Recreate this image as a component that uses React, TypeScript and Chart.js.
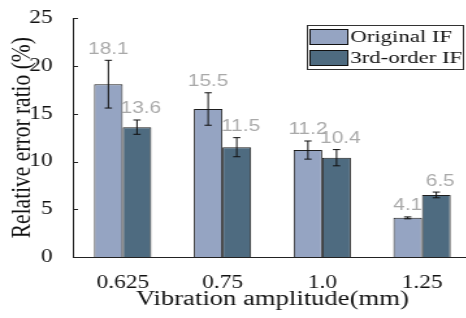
import React, { useEffect, useRef } from "react";
import { Chart, registerables } from "chart.js";

Chart.register(...registerables);

const categories = ["0.625", "0.75", "1.0", "1.25"];
const seriesNames = ["Original IF", "3rd-order IF"];
const originalValues = [18.1, 15.5, 11.2, 4.1];
const thirdOrderValues = [13.6, 11.5, 10.4, 6.5];
const originalErrors = [2.5, 1.7, 0.95, 0.1];
const thirdOrderErrors = [0.75, 1.0, 0.85, 0.3];
const yTicks = [0, 5, 10, 15, 20, 25];
const seriesColors = ["#95a4c2", "#4e6b80"];

const SERIF = '"Liberation Serif", "Times New Roman", serif';
const SANS = '"Liberation Sans", Arial, sans-serif';

const overlayPlugin = {
  id: "overlay",
  afterDatasetsDraw(chart: any) {
    const ctx = chart.ctx;
    const y = chart.scales.y;
    const errs = [originalErrors, thirdOrderErrors];
    chart.data.datasets.forEach((ds: any, di: number) => {
      const meta = chart.getDatasetMeta(di);
      meta.data.forEach((bar: any, i: number) => {
        const v = ds.data[i];
        const e = errs[di][i];
        const top = y.getPixelForValue(v + e);
        const bot = y.getPixelForValue(v - e);
        const x = bar.x;
        ctx.save();
        ctx.strokeStyle = "#111";
        ctx.lineWidth = 1;
        ctx.beginPath();
        ctx.moveTo(x, top);
        ctx.lineTo(x, bot);
        ctx.moveTo(x - 2.8, top);
        ctx.lineTo(x + 2.8, top);
        ctx.moveTo(x - 2.8, bot);
        ctx.lineTo(x + 2.8, bot);
        ctx.stroke();
        ctx.fillStyle = "#a9a9a9";
        ctx.font = `16px ${SANS}`;
        ctx.textAlign = "center";
        ctx.textBaseline = "alphabetic";
        ctx.fillText(v.toFixed(1), x + (di === 1 ? 3 : 0), top - 6.5);
        ctx.restore();
      });
    });
  },
  afterDraw(chart: any) {
    const ctx = chart.ctx;
    const y = chart.scales.y;
    const area = chart.chartArea;
    ctx.save();
    // inward y ticks
    ctx.strokeStyle = "#222";
    ctx.lineWidth = 1;
    ctx.beginPath();
    y.ticks.forEach((t: any) => {
      const py = Math.round(y.getPixelForValue(t.value)) + 0.5;
      ctx.moveTo(area.left, py);
      ctx.lineTo(area.left + 4, py);
    });
    ctx.stroke();
    // legend
    const bx = 236.5, by = 25.5, bw = 120, bh = 44;
    ctx.fillStyle = "#fff";
    ctx.fillRect(bx, by, bw, bh);
    ctx.strokeStyle = "#333";
    ctx.strokeRect(bx, by, bw, bh);
    chart.data.datasets.forEach((ds: any, i: number) => {
      const sy = 29.5 + i * 21;
      ctx.fillStyle = ds.backgroundColor;
      ctx.fillRect(238.5, sy, 29, 15);
      ctx.strokeStyle = "#111";
      ctx.strokeRect(238.5, sy, 29, 15);
      ctx.fillStyle = "#111";
      ctx.font = `17.5px ${SERIF}`;
      ctx.textAlign = "left";
      ctx.textBaseline = "middle";
      ctx.fillText(ds.label, 269.5, sy + 8);
    });
    ctx.restore();
  },
};

export default function App() {
  const ref = useRef<HTMLCanvasElement | null>(null);
  useEffect(() => {
    document.body.style.margin = "0";
    const chart = new Chart(ref.current as HTMLCanvasElement, {
      type: "bar",
      data: {
        labels: categories,
        datasets: [
          {
            label: seriesNames[0],
            data: originalValues,
            backgroundColor: seriesColors[0],
            borderColor: "#1e1e1e",
            borderWidth: 1,
            categoryPercentage: 0.574,
            barPercentage: 1.0,
          },
          {
            label: seriesNames[1],
            data: thirdOrderValues,
            backgroundColor: seriesColors[1],
            borderColor: "#1e1e1e",
            borderWidth: 1,
            categoryPercentage: 0.574,
            barPercentage: 1.0,
          },
        ],
      },
      options: {
        animation: false,
        responsive: false,
        devicePixelRatio: 1,
        layout: { padding: { top: 17, right: 0, bottom: 0, left: 0 } },
        plugins: { legend: { display: false }, tooltip: { enabled: false } },
        scales: {
          x: {
            type: "category",
            offset: true,
            grid: { display: false },
            border: { display: true, color: "#222", width: 1 },
            ticks: { color: "#111", font: { family: SERIF, size: 18 }, padding: 7.5 },
            title: {
              display: true,
              text: "Vibration amplitude(mm)",
              color: "#111",
              font: { family: SERIF, size: 20.5 },
              padding: { top: 0, bottom: 6.5 },
            },
            afterFit: (s: any) => {
              s.height = 61;
            },
          },
          y: {
            min: 0,
            max: 25,
            grid: { display: false },
            border: { display: true, color: "#222", width: 1 },
            afterBuildTicks: (s: any) => {
              s.ticks = yTicks.map((v) => ({ value: v }));
            },
            ticks: { color: "#111", font: { family: SERIF, size: 18 }, padding: 7.5 },
            title: {
              display: true,
              text: "Relative error ratio (%)",
              color: "#111",
              font: { family: SERIF, size: 21.5 },
              padding: { top: 4, bottom: 0 },
            },
            afterFit: (s: any) => {
              s.width = 56;
            },
          },
        },
      },
      plugins: [overlayPlugin],
    } as any);
    return () => chart.destroy();
  }, []);
  return (
    <div
      style={{
        position: "fixed",
        left: 0,
        top: 0,
        width: 466,
        height: 318,
        overflow: "hidden",
        background: "#fff",
      }}
    >
      <div style={{ width: 363, height: 318, transform: "scaleX(1.3)", transformOrigin: "0 0" }}>
        <canvas ref={ref} width={363} height={318} style={{ display: "block" }} />
      </div>
    </div>
  );
}
